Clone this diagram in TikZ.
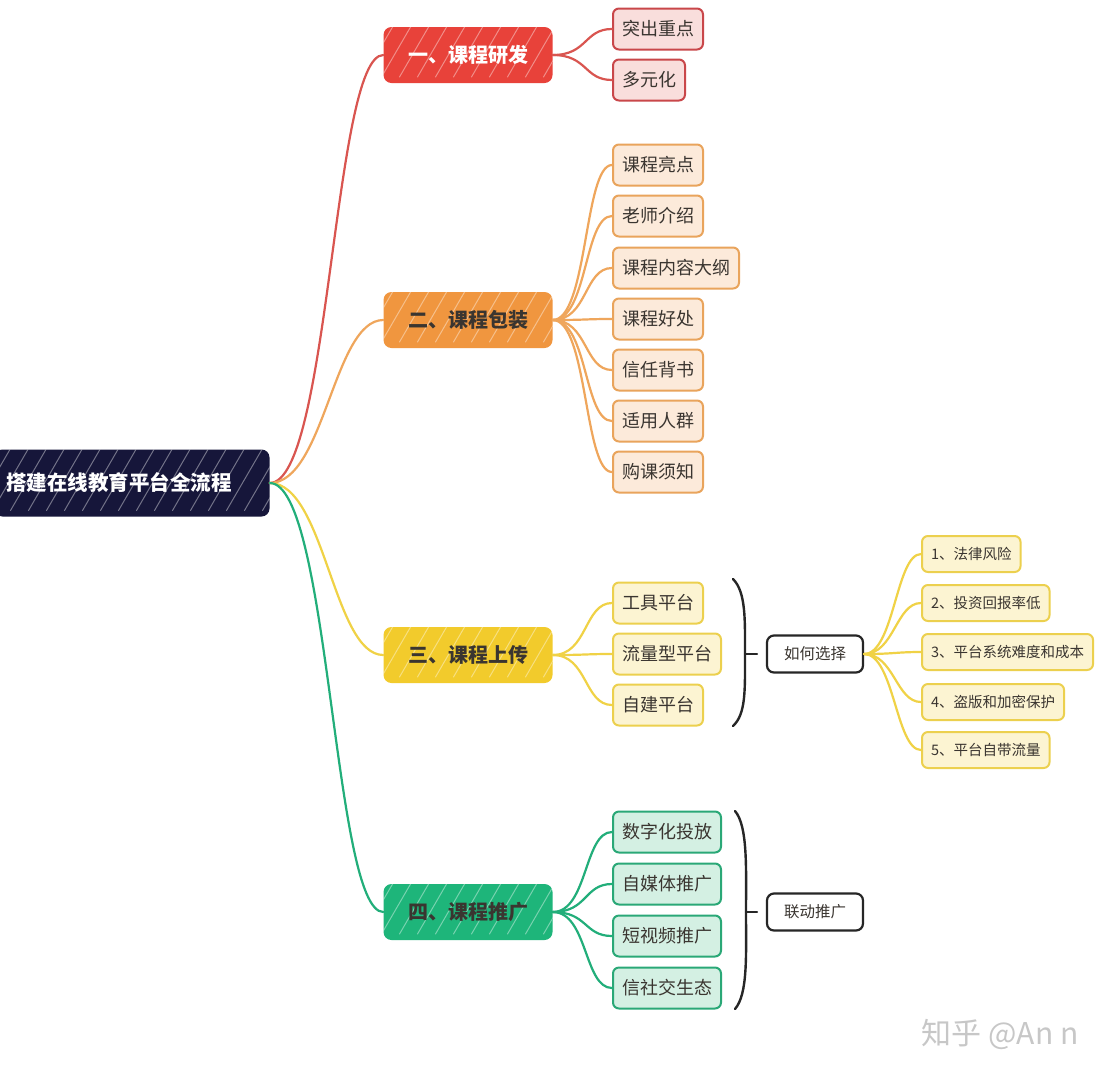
\documentclass[tikz,border=0pt]{standalone}
\usepackage{fontspec}
\setmainfont{Noto Sans CJK SC}
\usetikzlibrary{calc}
\definecolor{cRoot}{HTML}{16163A}
\definecolor{cRed}{HTML}{E8423A}
\definecolor{cRedL}{HTML}{D95550}
\definecolor{cRedF}{HTML}{F9DEDC}
\definecolor{cRedB}{HTML}{C9474A}
\definecolor{cOrange}{HTML}{F0963F}
\definecolor{cOrangeL}{HTML}{EFA65C}
\definecolor{cOrangeF}{HTML}{FCEADA}
\definecolor{cOrangeB}{HTML}{E9A45C}
\definecolor{cYellow}{HTML}{F2CB2C}
\definecolor{cYellowL}{HTML}{F0D246}
\definecolor{cYellowF}{HTML}{FCF4D2}
\definecolor{cYellowB}{HTML}{ECD04E}
\definecolor{cGreen}{HTML}{1EB57A}
\definecolor{cGreenL}{HTML}{22AE7A}
\definecolor{cGreenF}{HTML}{D4F0E3}
\definecolor{cGreenB}{HTML}{2AA877}
\definecolor{cText}{HTML}{3A3530}
\begin{document}
\begin{tikzpicture}[x=1pt,y=-1pt,
  hatch/.style={path picture={
    \foreach \k in {-60,-42,...,300} {
      \draw[white,opacity=.4,line width=1pt,line cap=round]
        ($(path picture bounding box.south west)+(\k+4,-6)$) -- ++(36,-62);
    }}},
  rootbox/.style={fill=cRoot,rounded corners=8pt,minimum width=275pt,minimum height=67pt,
    text=white,font=\fontsize{20.5}{24}\bfseries\selectfont,hatch},
  mainbox/.style={rounded corners=8pt,minimum width=169pt,minimum height=56pt,
    text=cText,font=\fontsize{20}{24}\bfseries\selectfont,hatch},
  leaf/.style={draw,line width=2pt,rounded corners=6pt,minimum height=41pt,inner xsep=9pt,
    anchor=west,text=cText,font=\fontsize{18}{22}\selectfont},
  small/.style={draw,line width=2pt,rounded corners=6pt,minimum height=36pt,inner xsep=9pt,
    anchor=west,text=cText,font=\fontsize{14.5}{18}\selectfont,fill=cYellowF,draw=cYellowB},
  choice/.style={draw=black!85,fill=white,line width=2.2pt,rounded corners=7pt,minimum width=96pt,
    minimum height=37pt,text=cText,font=\fontsize{15.5}{18}\selectfont},
  link/.style={line width=2.2pt,line cap=round},
  brace/.style={line width=2.4pt,black!85,line cap=round}
]
\useasboundingbox (0,0) rectangle (1119,1080);
\fill[white] (0,0) rectangle (1119,1080);

% root and main branches
\node[rootbox] (root) at (132,483) {搭建在线教育平台全流程\hspace*{26pt}};
\node[mainbox,fill=cRed,text=white] (m1) at (468,55) {一、课程研发};
\node[mainbox,fill=cOrange] (m2) at (468,320) {二、课程包装};
\node[mainbox,fill=cYellow] (m3) at (468,655) {三、课程上传};
\node[mainbox,fill=cGreen] (m4) at (468,912) {四、课程推广};

\draw[link,cRedL] (root.east) .. controls +(60,0) and +(-50,0) .. (m1.west);
\draw[link,cOrangeL] (root.east) .. controls +(55,0) and +(-50,0) .. (m2.west);
\draw[link,cYellowL] (root.east) .. controls +(55,0) and +(-50,0) .. (m3.west);
\draw[link,cGreenL] (root.east) .. controls +(60,0) and +(-50,0) .. (m4.west);

% branch 1
\begin{scope}[every node/.append style={fill=cRedF,draw=cRedB}]
\node[leaf] (a1) at (612,29) {突出重点};
\node[leaf] (a2) at (612,80) {多元化};
\end{scope}
\foreach \n in {a1,a2}
  \draw[link,cRedL] (m1.east) .. controls +(35,0) and +(-28,0) .. (\n.west);

% branch 2
\begin{scope}[every node/.append style={fill=cOrangeF,draw=cOrangeB}]
\node[leaf] (b1) at (612,165) {课程亮点};
\node[leaf] (b2) at (612,216) {老师介绍};
\node[leaf] (b3) at (612,268) {课程内容大纲};
\node[leaf] (b4) at (612,319) {课程好处};
\node[leaf] (b5) at (612,370) {信任背书};
\node[leaf] (b6) at (612,421) {适用人群};
\node[leaf] (b7) at (612,472) {购课须知};
\end{scope}
\foreach \n in {b1,b2,b3,b4,b5,b6,b7}
  \draw[link,cOrangeL] (m2.east) .. controls +(35,0) and +(-28,0) .. (\n.west);

% branch 3
\begin{scope}[every node/.append style={fill=cYellowF,draw=cYellowB}]
\node[leaf] (c1) at (612,603) {工具平台};
\node[leaf] (c2) at (612,654) {流量型平台};
\node[leaf] (c3) at (612,705) {自建平台};
\end{scope}
\foreach \n in {c1,c2,c3}
  \draw[link,cYellowL] (m3.east) .. controls +(35,0) and +(-28,0) .. (\n.west);

\coordinate (y1t) at (733,579);
\coordinate (y1m) at (745,654);
\coordinate (y1b) at (733,726);
\coordinate (y1k) at (757,654);
\draw[brace] (y1t) .. controls (746,592) and (745,620) .. (y1m)
  .. controls (745,690) and (746,714) .. (y1b);
\draw[brace] (y1m) -- (y1k);
\node[choice] (q) at (815,654) {如何选择};

\node[small] (e1) at (921,554) {1、法律风险};
\node[small] (e2) at (921,603) {2、投资回报率低};
\node[small] (e3) at (921,652) {3、平台系统难度和成本};
\node[small] (e4) at (921,702) {4、盗版和加密保护};
\node[small] (e5) at (921,750) {5、平台自带流量};
\foreach \n in {e1,e2,e3,e4,e5}
  \draw[link,cYellowL] (q.east) .. controls +(30,0) and +(-25,0) .. (\n.west);

% branch 4
\begin{scope}[every node/.append style={fill=cGreenF,draw=cGreenB}]
\node[leaf] (d1) at (612,832) {数字化投放};
\node[leaf] (d2) at (612,884) {自媒体推广};
\node[leaf] (d3) at (612,936) {短视频推广};
\node[leaf] (d4) at (612,988) {信社交生态};
\end{scope}
\foreach \n in {d1,d2,d3,d4}
  \draw[link,cGreenL] (m4.east) .. controls +(35,0) and +(-28,0) .. (\n.west);

\coordinate (g1t) at (735,811);
\coordinate (g1m) at (746,912);
\coordinate (g1b) at (735,1009);
\coordinate (g1k) at (757,912);
\draw[brace] (g1t) .. controls (748,826) and (746,870) .. (g1m)
  .. controls (746,955) and (748,994) .. (g1b);
\draw[brace] (g1m) -- (g1k);
\node[choice] (l) at (815,912) {联动推广};

% watermark
\node[text=black!22,font=\fontsize{30}{33}\selectfont] (wm) at (1000,1034) {知乎 @An n};
\end{tikzpicture}
\end{document}
